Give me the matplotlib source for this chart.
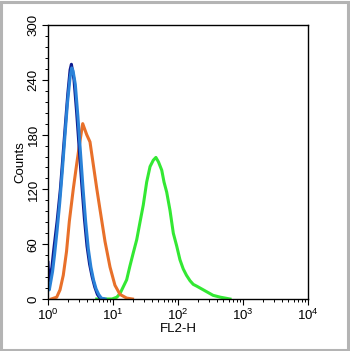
import numpy as np
import matplotlib
matplotlib.use("Agg")
import matplotlib.pyplot as plt
from matplotlib.patches import Rectangle
from matplotlib.ticker import LogLocator, NullFormatter, MultipleLocator, FixedLocator

plt.rcParams['font.family'] = ['Liberation Sans', 'DejaVu Sans']
plt.rcParams['mathtext.fontset'] = 'custom'
plt.rcParams['mathtext.rm'] = 'Liberation Sans'
plt.rcParams['mathtext.it'] = 'Liberation Sans'

# ---- data (log10 of FL2-H, counts) ----
navy_log = [0.0, 0.015, 0.035, 0.06, 0.09, 0.14, 0.19, 0.225, 0.265, 0.305, 0.34, 0.36,
            0.40, 0.44, 0.48, 0.52, 0.56, 0.60, 0.64, 0.68, 0.72, 0.76, 0.80, 0.85]
navy_cnt = [40, 20, 25, 35, 55, 85, 120, 152, 189, 225, 251, 257,
            240, 205, 165, 125, 88, 58, 38, 24, 13, 5, 1, 0]

blue_log = [0.0, 0.02, 0.04, 0.07, 0.10, 0.14, 0.18, 0.22, 0.26, 0.30, 0.34, 0.365, 0.385,
            0.42, 0.46, 0.50, 0.54, 0.58, 0.62, 0.66, 0.70, 0.74, 0.78, 0.82, 0.88]
blue_cnt = [15, 10, 18, 30, 48, 75, 105, 140, 178, 215, 243, 253, 250,
            235, 200, 160, 120, 84, 55, 35, 21, 11, 5, 1, 0]

orange_log = [0.05, 0.134, 0.185, 0.235, 0.285, 0.328, 0.39, 0.44, 0.49, 0.534, 0.595, 0.646,
              0.697, 0.75, 0.80, 0.877, 0.954, 1.03, 1.108, 1.21, 1.30]
orange_cnt = [0, 2, 10, 26, 52, 85, 121, 147, 172, 192, 180, 172,
              147, 121, 98, 63, 35, 15, 5, 1, 0]

green_log = [0.75, 0.985, 1.06, 1.108, 1.21, 1.26, 1.31, 1.365, 1.415, 1.466, 1.518, 1.57,
             1.62, 1.66, 1.70, 1.75, 1.785, 1.826, 1.877, 1.928, 1.98, 2.03, 2.08, 2.13,
             2.185, 2.235, 2.29, 2.34, 2.44, 2.54, 2.65, 2.80]
green_cnt = [0, 0, 2, 6, 21, 36, 50, 65, 84, 103, 128, 145,
             152, 155, 150, 141, 128, 117, 97, 72, 58, 43, 33, 26,
             20, 16, 14, 12, 8, 4, 2, 0]

y_ticks = [0, 60, 120, 180, 240, 300]
x_ticks = [1, 10, 100, 1000, 10000]
x_labels = [r'$10^{0}$', r'$10^{1}$', r'$10^{2}$', r'$10^{3}$', r'$10^{4}$']

fig = plt.figure(figsize=(3.5, 3.51), dpi=100)
ax = fig.add_axes([48/350, 1-299/351, 260/350, 274/351])

lw = 2.2
ax.plot(np.power(10.0, green_log), green_cnt, color='#33e833', lw=lw, solid_joinstyle='round')
ax.plot(np.power(10.0, orange_log), orange_cnt, color='#e8702a', lw=lw, solid_joinstyle='round')
ax.plot(np.power(10.0, navy_log), navy_cnt, color='#0d1a8e', lw=lw, solid_joinstyle='round')
ax.plot(np.power(10.0, blue_log), blue_cnt, color='#2a82d8', lw=lw, solid_joinstyle='round')

ax.set_xscale('log')
ax.set_xlim(1, 10000)
ax.set_ylim(0, 300)

ax.xaxis.set_major_locator(FixedLocator(x_ticks))
ax.set_xticklabels(x_labels)
ax.xaxis.set_minor_locator(LogLocator(base=10, subs=np.arange(2, 10)))
ax.xaxis.set_minor_formatter(NullFormatter())
ax.set_yticks(y_ticks)
ax.yaxis.set_minor_locator(MultipleLocator(12))

ax.tick_params(axis='both', which='major', direction='out', length=4, width=0.8,
               labelsize=9.5, colors='black')
ax.tick_params(axis='both', which='minor', direction='out', length=2.5, width=0.7)
ax.tick_params(axis='y', which='major', pad=2)
ax.tick_params(axis='x', which='major', pad=2)
for lab in ax.get_yticklabels():
    lab.set_rotation(90)
    lab.set_va('center')

for s in ax.spines.values():
    s.set_linewidth(1.0)
    s.set_color('black')

ax.set_xlabel('FL2-H', fontsize=9.5, labelpad=0)
ax.set_ylabel('Counts', fontsize=9.5, labelpad=1)

# outer gray frame of the picture
fig.patches.append(Rectangle((0.002, 0.003), 0.993, 0.992, transform=fig.transFigure,
                             fill=False, edgecolor='#b4b4b4', linewidth=2.2))

fig.savefig('out.png', dpi=100)
